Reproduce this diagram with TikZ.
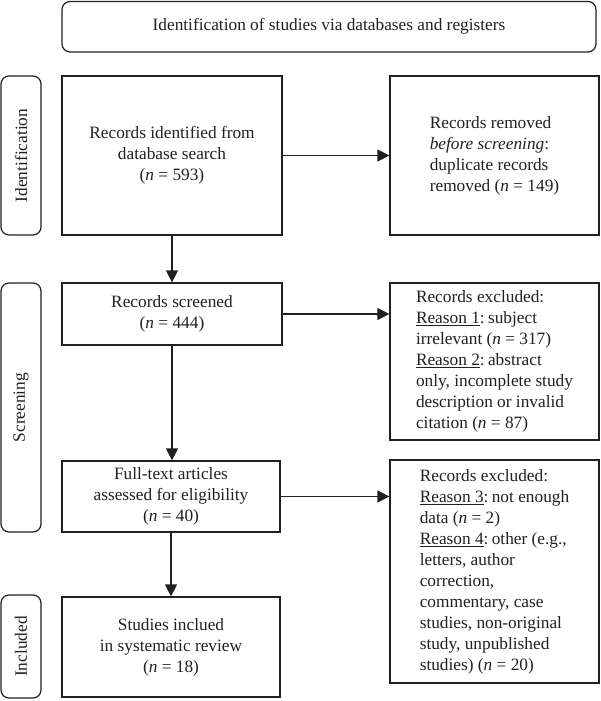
\documentclass[tikz,border=0pt]{standalone}
\usepackage{fontspec}
\setmainfont{Liberation Serif}
\usetikzlibrary{arrows.meta}
\definecolor{ink}{HTML}{231F20}
\newcommand{\rsn}[1]{\underline{#1}}
\tikzset{
  base/.style={draw=ink, line width=1.2pt, inner sep=0pt, text=ink,
    font=\fontsize{17.3}{21}\selectfont\frenchspacing},
  box/.style={base, rectangle, align=center},
  sidebox/.style={base, rectangle, align=left},
  rbox/.style={base, rectangle, rounded corners=8pt, align=center},
  lbl/.style={base, rectangle, rounded corners=8pt, rotate=90, minimum height=40pt},
  arr/.style={draw=ink, line width=1.2pt, -{Triangle[length=12pt,width=12pt]}}
}
\begin{document}
\begin{tikzpicture}[x=1pt,y=1pt]
\useasboundingbox (0,0) rectangle (600,-701);
\node[rbox, minimum width=534pt, minimum height=50.5pt] (title) at (329,-26.75)
  {Identification of studies via databases and registers};
\node[lbl, minimum width=159pt] (lab1) at (21,-155.5) {Identification};
\node[lbl, minimum width=249pt] (lab2) at (21,-407.5) {Screening};
\node[lbl, minimum width=103pt] (lab3) at (21,-646.5) {Included};
\node[box, minimum width=220pt, minimum height=159pt] (b1) at (172,-155.5)
  {Records identified from\\database search\\(\textit{n} = 593)};
\node[sidebox, minimum width=209pt, minimum height=159pt] (r1) at (494.5,-155.5)
  {Records removed\\\textit{before screening}:\\duplicate records\\removed (\textit{n} = 149)};
\node[box, minimum width=220pt, minimum height=62pt] (b2) at (172,-314)
  {Records screened\\(\textit{n} = 444)};
\node[sidebox, minimum width=209pt, minimum height=157pt] (r2) at (494.5,-361.5)
  {Records excluded:\\\rsn{Reason 1}:\kern-1pt{} subject\\irrelevant (\textit{n} = 317)\\\rsn{Reason 2}:\kern-1pt{} abstract\\only, incomplete study\\description or invalid\\citation (\textit{n} = 87)};
\node[box, minimum width=218pt, minimum height=71pt] (b3) at (171,-496.5)
  {Full-text articles\\assessed for eligibility\\(\textit{n} = 40)};
\node[sidebox, minimum width=209pt, minimum height=223pt] (r3) at (494.5,-571.5)
  {Records excluded:\\\rsn{Reason 3}:\kern-1pt{} not enough\\data (\textit{n} = 2)\\\rsn{Reason 4}:\kern-1pt{} other (e.g.,\\letters, author\\correction,\\commentary, case\\studies, non-original\\study, unpublished\\studies) (\textit{n} = 20)};
\node[box, minimum width=218pt, minimum height=100pt] (b4) at (171,-647)
  {Studies inclued\\in systematic review\\(\textit{n} = 18)};
\draw[arr] (b1.east) -- (b1.east -| r1.west);
\draw[arr] (b2.east) -- (b2.east -| r2.west);
\draw[arr] (b3.east) -- (b3.east -| r3.west);
\draw[arr] (b1.south) -- (b2.north);
\draw[arr] (b2.south) -- (b2.south |- b3.north);
\draw[arr] (b3.south) -- (b3.south |- b4.north);
\end{tikzpicture}
\end{document}
